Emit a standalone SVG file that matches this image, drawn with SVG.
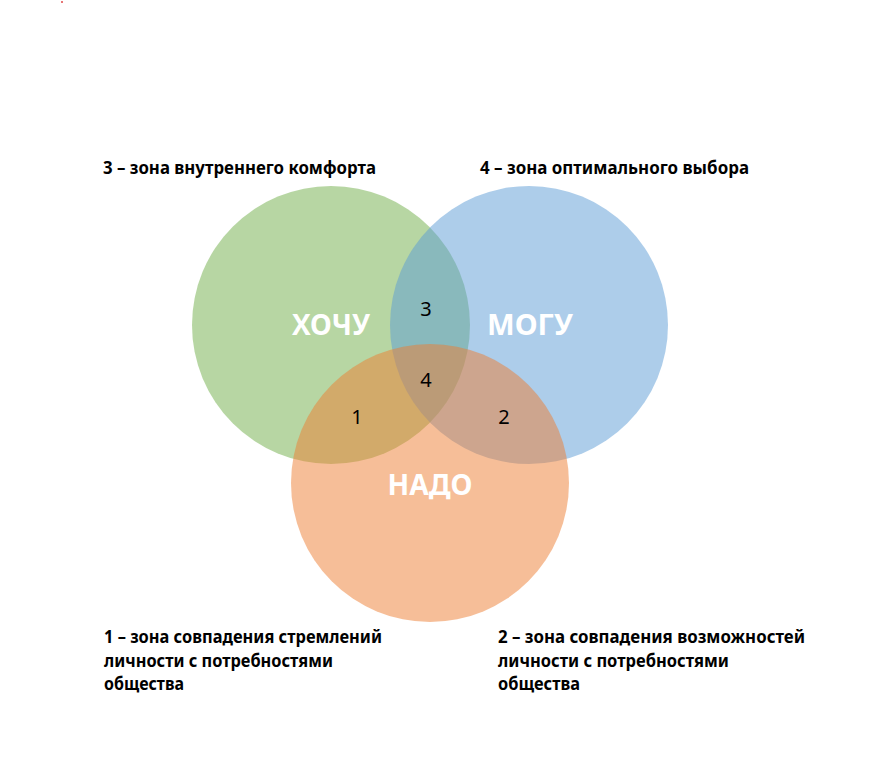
<svg xmlns="http://www.w3.org/2000/svg" width="872" height="778" viewBox="0 0 872 778">
<style>
.circ{opacity:0.5}
.lbl{font-family:"Noto Sans","Open Sans","DejaVu Sans",sans-serif;font-weight:bold;font-size:28px;fill:#ffffff;text-anchor:middle}
.num{font-family:"Noto Sans","Open Sans","DejaVu Sans",sans-serif;font-size:20px;fill:#000000;text-anchor:middle}
.cap{font-family:"Noto Sans","Open Sans","DejaVu Sans",sans-serif;font-weight:bold;font-size:18px;fill:#000000}
</style>
<rect width="872" height="778" fill="#ffffff"/>
<circle cx="62" cy="2" r="1" fill="#e04848"/>
<g id="node-hochu"><circle class="circ" cx="331" cy="325" r="139" fill="#70AD47"/></g>
<g id="node-mogu"><circle class="circ" cx="529" cy="325" r="139" fill="#5B9BD5"/></g>
<g id="node-nado"><circle class="circ" cx="430" cy="483" r="139" fill="#ED7D31"/></g>
<g id="connectors"/>
<g id="labels">
<text class="lbl" x="331" y="335" textLength="78" lengthAdjust="spacingAndGlyphs">ХОЧУ</text>
<text class="lbl" x="530" y="335" textLength="86" lengthAdjust="spacingAndGlyphs">МОГУ</text>
<text class="lbl" x="430" y="495" textLength="85" lengthAdjust="spacingAndGlyphs">НАДО</text>
</g>
<g id="zones">
<text class="num" x="426" y="316">3</text>
<text class="num" x="426" y="387">4</text>
<text class="num" x="357" y="424">1</text>
<text class="num" x="504" y="424">2</text>
</g>
<g id="captions">
<text class="cap" x="103" y="174" textLength="273" lengthAdjust="spacingAndGlyphs">3 – зона внутреннего комфорта</text>
<text class="cap" x="480" y="174" textLength="269" lengthAdjust="spacingAndGlyphs">4 – зона оптимального выбора</text>
<text class="cap" x="104" y="643" textLength="278" lengthAdjust="spacingAndGlyphs">1 – зона совпадения стремлений</text>
<text class="cap" x="104" y="667" textLength="229" lengthAdjust="spacingAndGlyphs">личности с потребностями</text>
<text class="cap" x="104" y="690" textLength="80" lengthAdjust="spacingAndGlyphs">общества</text>
<text class="cap" x="498" y="643" textLength="307" lengthAdjust="spacingAndGlyphs">2 – зона совпадения возможностей</text>
<text class="cap" x="498" y="667" textLength="231" lengthAdjust="spacingAndGlyphs">личности с потребностями</text>
<text class="cap" x="498" y="690" textLength="82" lengthAdjust="spacingAndGlyphs">общества</text>
</g>
</svg>
